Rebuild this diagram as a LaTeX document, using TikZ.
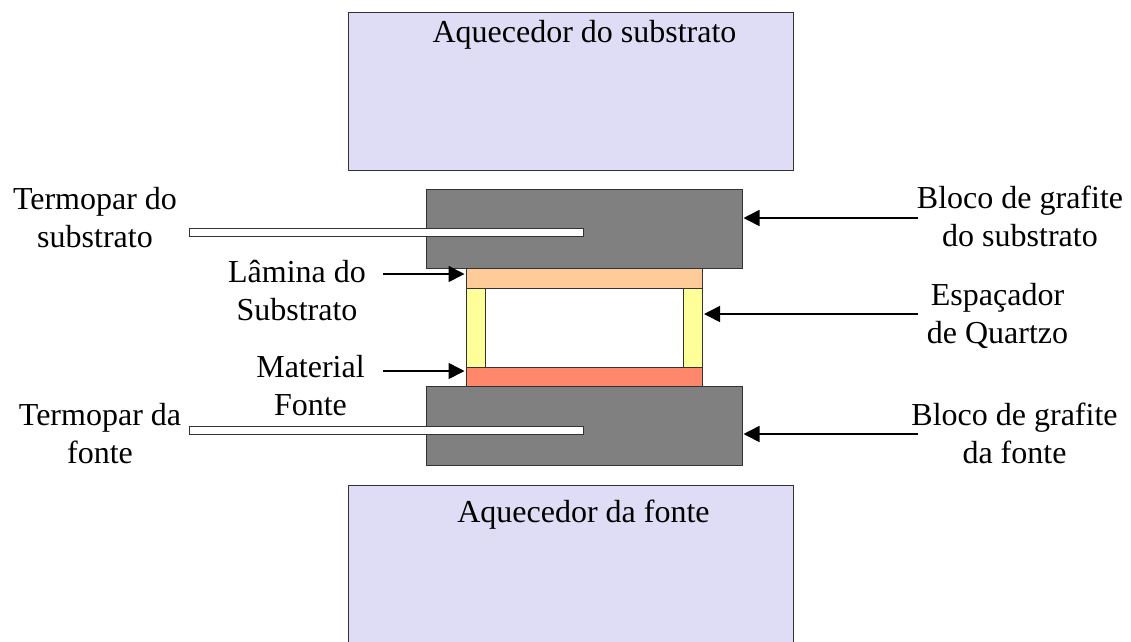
\documentclass[tikz,border=0pt]{standalone}
\usepackage{fontspec}
\setmainfont{Liberation Serif}
\usetikzlibrary{arrows.meta}
\definecolor{heater}{RGB}{223,221,245}
\definecolor{graphite}{RGB}{128,128,128}
\definecolor{wafer}{RGB}{255,204,153}
\definecolor{source}{RGB}{255,136,108}
\definecolor{spacer}{RGB}{255,255,153}
\tikzset{
 part/.style={draw=black!80,line width=1pt,anchor=north west,inner sep=0pt,outer sep=0pt},
 lbl/.style={font=\fontsize{32}{38}\selectfont,align=center,inner sep=0pt,text=black,anchor=base},
 ptr/.style={-{Triangle[length=16pt,width=16pt]},line width=1.6pt,black,shorten >=1.5pt},
}
\newcommand{\boxat}[6]{\node[part,fill=#6,minimum width=#4pt,minimum height=#5pt] (#1) at (#2,#3) {};}
\begin{document}
\begin{tikzpicture}[x=1pt,y=-1pt]
\useasboundingbox (0,0) rectangle (1131,641);
\begin{scope}
\clip (0,0) rectangle (1131,641);
\boxat{heatT}{348}{12}{445}{158}{heater}
\boxat{heatB}{348}{485}{445}{170}{heater}
\end{scope}
\boxat{wafer}{466}{268}{236.5}{20}{wafer}
\boxat{src}{466}{367}{236.5}{19}{source}
\boxat{spL}{466}{288}{19.5}{79}{spacer}
\boxat{spR}{683}{288}{19.5}{79}{spacer}
\boxat{blkT}{426}{189}{316}{79}{graphite}
\boxat{blkB}{426}{386}{316}{79}{graphite}
\boxat{tcT}{189}{228.7}{394.5}{8}{white}
\boxat{tcB}{189}{426}{394.5}{8}{white}
\node[lbl] (tHeatT) at (584.5,42) {Aquecedor do substrato};
\node[lbl] (tHeatB) at (583.5,522) {Aquecedor da fonte};
\node[lbl] (tTcT) at (95,247.5) {Termopar do\\substrato};
\node[lbl] (tTcB) at (100,463) {Termopar da\\fonte};
\node[lbl] (tWafer) at (297,320) {Lâmina do\\Substrato};
\node[lbl] (tSrc) at (310.5,415.5) {Material\\Fonte};
\node[lbl] (tBlkT) at (1020,246.5) {Bloco de grafite\\do substrato};
\node[lbl] (tSp) at (997.5,343) {Espaçador\\de Quartzo};
\node[lbl] (tBlkB) at (1014.5,463) {Bloco de grafite\\da fonte};
\coordinate (aW) at (383,274);
\coordinate (aS) at (383,371);
\coordinate (aBT) at (918,218);
\coordinate (aSp) at (918,314);
\coordinate (aBB) at (918,434);
\draw[ptr] (aW) -- (aW -| wafer.west);
\draw[ptr] (aS) -- (aS -| src.west);
\draw[ptr] (aBT) -- (aBT -| blkT.east);
\draw[ptr] (aSp) -- (aSp -| spR.east);
\draw[ptr] (aBB) -- (aBB -| blkB.east);
\end{tikzpicture}
\end{document}
